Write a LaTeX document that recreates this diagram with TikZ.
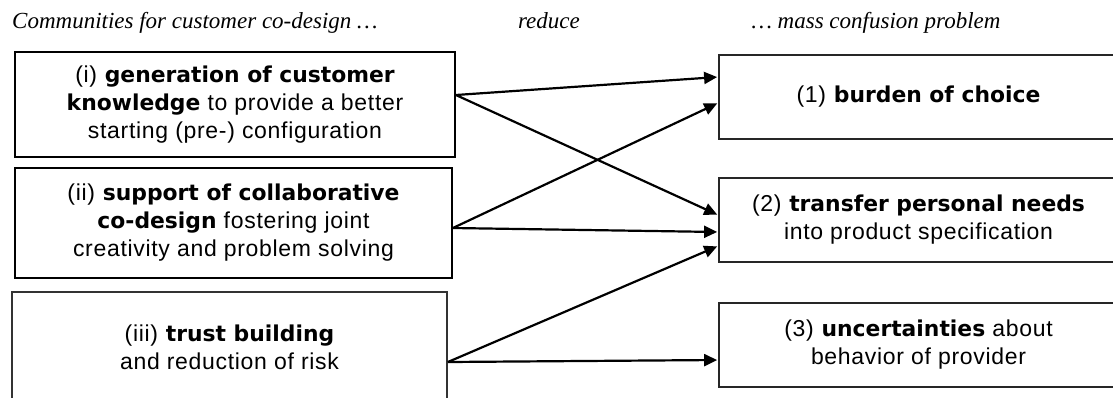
\documentclass[tikz,border=0pt]{standalone}
\usepackage{fontspec}
\setmainfont{Liberation Sans}[UprightFeatures={LetterSpace=3},BoldFont={DejaVu Sans Bold},BoldFeatures={Scale=0.95}]
\newfontfamily\headfont{Liberation Serif}
\usetikzlibrary{arrows.meta}
\begin{document}
\begin{tikzpicture}[x=1pt,y=-1pt,
  headtext/.style={font=\headfont\itshape\fontsize{23}{28}\selectfont, inner sep=0pt},
  leftbox/.style={draw=black, line width=1.8pt, rectangle, align=center,
    font=\fontsize{23}{28}\selectfont, inner sep=0pt},
  rightbox/.style={draw=black!85, line width=1.8pt, rectangle, align=center,
    font=\fontsize{23}{28}\selectfont, inner sep=0pt,
    minimum width=399pt, minimum height=84pt},
  arr/.style={line width=2.2pt, -{Triangle[length=13pt,width=12pt]}, shorten >=1pt}]
\useasboundingbox (0,0) rectangle (1113,397);
\clip (0,0) rectangle (1113,397);

% column headings
\node[headtext, anchor=base west] (hleft) at (12,28) {Communities for customer co-design \dots};
\node[headtext, anchor=base] (hmid) at (549,28) {reduce};
\node[headtext, anchor=base] (hright) at (876,28) {\dots\ mass confusion problem};

% community contributions
\node[leftbox, minimum width=440pt, minimum height=105pt] (bi) at (235,104.5)
  {(i) \textbf{generation of customer}\\\textbf{knowledge} to provide a better\\starting (pre-) configuration};
\node[leftbox, minimum width=437pt, minimum height=110pt] (bii) at (233.5,223)
  {(ii) \textbf{support of collaborative}\\\textbf{co-design} fostering joint\\creativity and problem solving};
\node[leftbox, draw=black!80, minimum width=435pt, minimum height=110pt] (biii) at (229.5,347)
  {(iii) \textbf{trust building}\\and reduction of risk};

% mass confusion problems
\node[rightbox] (b1) at (918.5,97) {(1) \textbf{burden of choice}};
\node[rightbox] (b2) at (918.5,220) {(2) \textbf{transfer personal needs}\\into product specification};
\node[rightbox] (b3) at (918.5,345) {(3) \textbf{uncertainties} about\\behavior of provider};

% reductions
\draw[arr] ([yshift=9.5pt]bi.east) -- ([yshift=20pt]b1.west);
\draw[arr] ([yshift=9.5pt]bi.east) -- ([yshift=5pt]b2.west);
\draw[arr] ([yshift=-5pt]bii.east) -- ([yshift=-6pt]b1.west);
\draw[arr] ([yshift=-5pt]bii.east) -- ([yshift=-12pt]b2.west);
\draw[arr] ([yshift=-15pt]biii.east) -- ([yshift=-26pt]b2.west);
\draw[arr] ([yshift=-15pt]biii.east) -- ([yshift=-15pt]b3.west);
\end{tikzpicture}
\end{document}
